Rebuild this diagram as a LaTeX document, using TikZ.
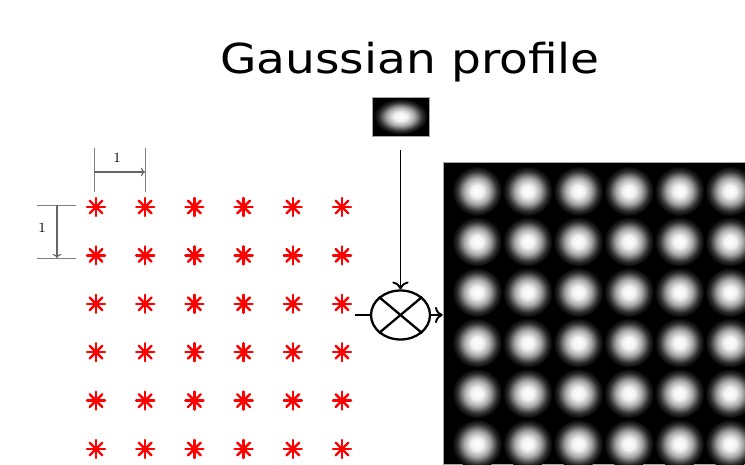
\documentclass[tikz,border=0pt]{standalone}
\usepackage{fontspec}
\newfontfamily\titlefont{DejaVu Sans}
\usetikzlibrary{positioning, arrows.meta, shapes.geometric}

\pgfdeclareradialshading{spot}{\pgfpoint{0bp}{0bp}}{color(0bp)=(white); color(6bp)=(white!95!black); color(13bp)=(black!35); color(20bp)=(black!82); color(25bp)=(black); color(50bp)=(black)}

\begin{document}
\begin{tikzpicture}[
    x=0.02cm, y=-0.02cm,
    title/.style={font=\titlefont\fontsize{23.5}{28}\selectfont, inner sep=0pt, anchor=base},
    img/.style={rectangle, fill=black, draw=black!35, line width=0.4pt, inner sep=0pt},
    mult/.style={ellipse, draw=black, line width=1.3pt, minimum width=1.18cm, minimum height=0.98cm, inner sep=0pt},
    arr/.style={-{To[scale=1.1]}, line width=1.1pt, draw=black},
    dim/.style={draw=black!50, line width=0.5pt},
    dimarr/.style={-{To[scale=0.8]}, draw=black!60, line width=0.6pt},
    dimlab/.style={font=\fontsize{8}{9}\selectfont, inner sep=1pt},
    spoke/.style={draw=red, line width=1.4pt, line cap=round}
]
    \useasboundingbox (0,0) rectangle (745,464);

    \node[title] (title) at (410,73) {\scalebox{1.14}[1]{Gaussian profile}};

    \node[img, minimum width=1.14cm, minimum height=0.78cm] (profile) at (400.5,116.5) {};
    \shade[shading=spot] (profile.center) ellipse (27 and 18);

    \node[img, minimum width=6.04cm, minimum height=6.04cm] (outimg) at (594,313) {};
    \begin{scope}
        \clip (outimg.north west) rectangle (outimg.south east);
        \foreach \i in {0,...,5}
            \foreach \j in {0,...,5}
                \shade[shading=spot] (477+50.6*\i, 191+50.6*\j) circle (25);
    \end{scope}

    \foreach \i in {0,...,5}
        \foreach \j in {0,...,5} {
            \foreach \a in {0,45,90,135}
                \draw[spoke] (96+49.2*\i, 207+48.4*\j) ++(\a:9) -- ++(\a+180:18);
            \fill[red] (96+49.2*\i, 207+48.4*\j) circle (3.5);
        }

    \node[mult] (mult) at (400.5,315) {};
    \draw[line width=1.3pt] (mult.north west) -- (mult.south east) (mult.north east) -- (mult.south west);

    \coordinate (latt) at (355,315);
    \draw[line width=1.1pt] (latt) -- (mult.west);
    \draw[arr] (mult.east) -- (outimg.west |- mult.east);
    \draw[arr, shorten <=0.28cm] (profile.south) -- (mult.north);

    \draw[dim] (94,148) -- (94,192) (145,148) -- (145,192);
    \coordinate (hx0) at (94,172);
    \coordinate (hx1) at (145,172);
    \draw[dimarr] (hx0) -- (hx1);
    \node[dimlab] (hlab) at (117,158) {1};

    \draw[dim] (37,205) -- (76,205) (37,258) -- (76,258);
    \coordinate (vy0) at (57,205);
    \coordinate (vy1) at (57,258);
    \draw[dimarr] (vy0) -- (vy1);
    \node[dimlab] (vlab) at (42,228) {1};
\end{tikzpicture}
\end{document}
